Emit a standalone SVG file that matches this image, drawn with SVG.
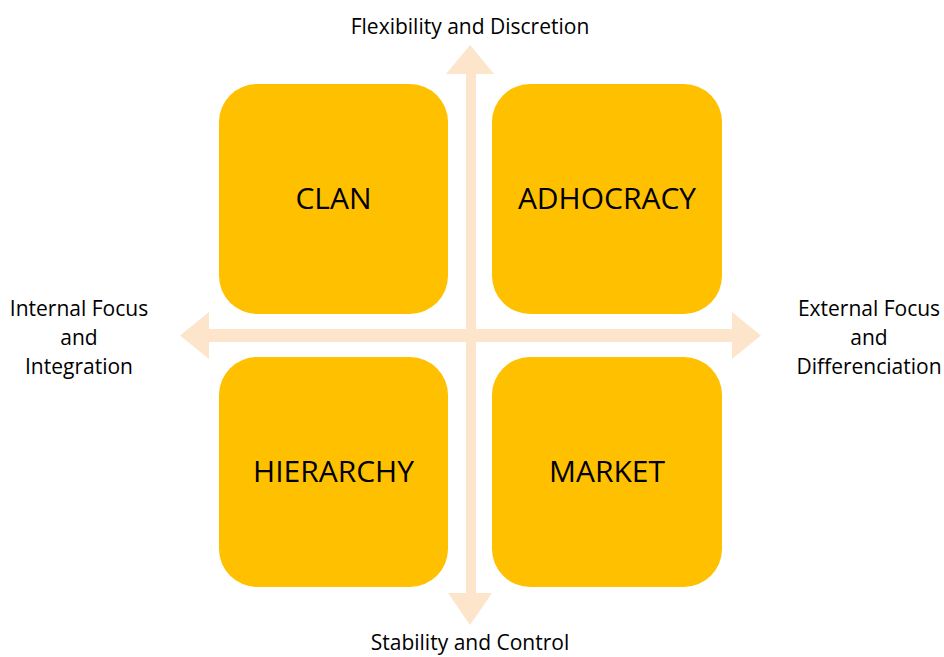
<svg xmlns="http://www.w3.org/2000/svg" width="944" height="657" viewBox="0 0 944 657">
  <style>
    .quad { fill: #FFC000; }
    .axis { fill: #FDE5CC; }
    .qlabel { font-family: "Open Sans", "Liberation Sans", sans-serif; font-size: 30px; fill: #000; text-anchor: middle; }
    .alabel { font-family: "Open Sans", "Liberation Sans", sans-serif; font-size: 21px; fill: #000; text-anchor: middle; }
  </style>
  <rect width="944" height="657" fill="#FFFFFF"/>

  <!-- axes -->
  <g id="connectors">
    <!-- vertical double arrow -->
    <polygon class="axis" points="470,45 494,74 476,74 476,593 492,593 470,625 448,593 466,593 466,74 446,74"/>
    <!-- horizontal double arrow -->
    <polygon class="axis" points="180,335.5 209,312 209,329 732,329 732,312 761,335.5 732,359 732,342 209,342 209,359"/>
  </g>

  <g id="clan">
    <rect class="quad" x="219" y="84" width="229" height="230" rx="38" ry="38"/>
    <text class="qlabel" x="333.5" y="209">CLAN</text>
  </g>
  <g id="adhocracy">
    <rect class="quad" x="492" y="84" width="230" height="230" rx="38" ry="38"/>
    <text class="qlabel" x="607" y="209">ADHOCRACY</text>
  </g>
  <g id="hierarchy">
    <rect class="quad" x="219" y="357" width="229" height="230" rx="38" ry="38"/>
    <text class="qlabel" x="333.5" y="482">HIERARCHY</text>
  </g>
  <g id="market">
    <rect class="quad" x="492" y="357" width="230" height="230" rx="38" ry="38"/>
    <text class="qlabel" x="607" y="482">MARKET</text>
  </g>

  <g id="top-label">
    <text class="alabel" x="470" y="34">Flexibility and Discretion</text>
  </g>
  <g id="bottom-label">
    <text class="alabel" x="470" y="650">Stability and Control</text>
  </g>
  <g id="left-label">
    <text class="alabel" x="79" y="316">Internal Focus</text>
    <text class="alabel" x="79" y="345">and</text>
    <text class="alabel" x="79" y="374">Integration</text>
  </g>
  <g id="right-label">
    <text class="alabel" x="869" y="316">External Focus</text>
    <text class="alabel" x="869" y="345">and</text>
    <text class="alabel" x="869" y="374">Differenciation</text>
  </g>
</svg>
